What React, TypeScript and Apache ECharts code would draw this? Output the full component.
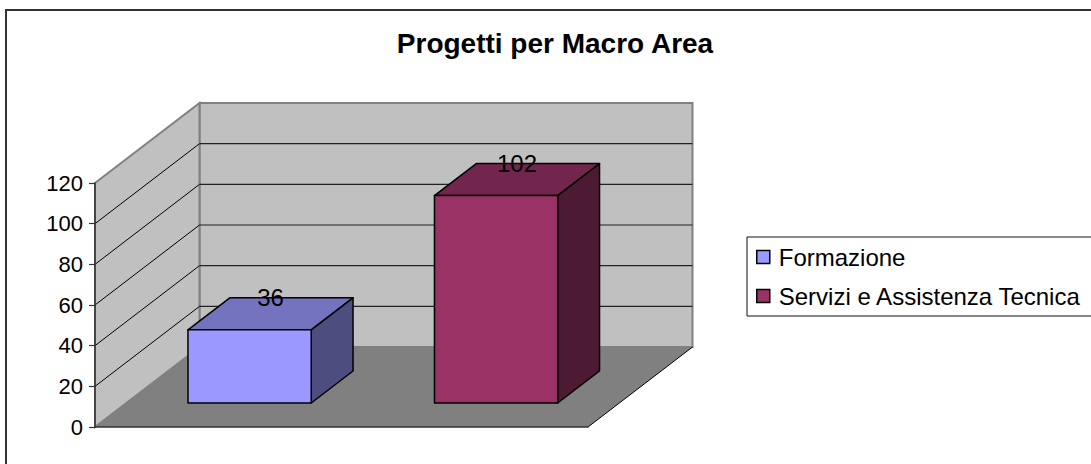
import React, { useEffect, useRef } from "react";
import * as echarts from "echarts";

const title = "Progetti per Macro Area";
const categories = ["Formazione", "Servizi e Assistenza Tecnica"];
const values = [36, 102];
const yTicks = [0, 20, 40, 60, 80, 100, 120];
const frontColors = ["#9999ff", "#993366"];
const topColors = ["#7373bf", "#73264d"];
const sideColors = ["#4d4d80", "#4d1a33"];

const DX = 104.5;
const DY = -80;
const F0 = 0.3;
const F1 = 0.7;
const FONT = '"Liberation Sans", Arial, sans-serif';

export default function App() {
  const ref = useRef<HTMLDivElement>(null);

  useEffect(() => {
    if (!ref.current) return;
    const chart = echarts.init(ref.current, null, { renderer: "svg" });
    const yMax = yTicks[yTicks.length - 1];

    const wallsSeries: any = {
      type: "custom",
      name: "walls",
      clip: false,
      silent: true,
      z: 1,
      data: [[0, 0]],
      renderItem: (params: any, api: any) => {
        const cs = params.coordSys;
        const x0 = cs.x;
        const w = cs.width;
        const yBot = api.coord([0, 0])[1];
        const yTop = api.coord([0, yMax])[1];
        const children: any[] = [];
        children.push({
          type: "rect",
          shape: { x: x0 + DX, y: yTop + DY, width: w, height: yBot - yTop },
          style: { fill: "#c0c0c0", stroke: "#808080", lineWidth: 2 },
        });
        children.push({
          type: "polygon",
          shape: { points: [[x0, yTop], [x0 + DX, yTop + DY], [x0 + DX, yBot + DY], [x0, yBot]] },
          style: { fill: "#c0c0c0", stroke: "#808080", lineWidth: 2 },
        });
        children.push({
          type: "polygon",
          shape: { points: [[x0, yBot], [x0 + w, yBot], [x0 + w + DX, yBot + DY], [x0 + DX, yBot + DY]] },
          style: { fill: "#808080" },
        });
        children.push({
          type: "line",
          shape: { x1: x0 + w, y1: yBot, x2: x0 + w + DX, y2: yBot + DY },
          style: { stroke: "#000", lineWidth: 1 },
        });
        yTicks.forEach((v) => {
          if (v === 0 || v === yMax) return;
          const yv = api.coord([0, v])[1];
          children.push({
            type: "line",
            shape: { x1: x0, y1: yv, x2: x0 + DX, y2: yv + DY },
            style: { stroke: "#000", lineWidth: 1 },
          });
          children.push({
            type: "line",
            shape: { x1: x0 + DX, y1: yv + DY, x2: x0 + w + DX, y2: yv + DY },
            style: { stroke: "#222", lineWidth: 1.2 },
          });
        });
        return { type: "group", children };
      },
    };

    const barSeries = categories.map((name, i) => ({
      type: "custom",
      name,
      clip: false,
      z: 3,
      itemStyle: { color: frontColors[i] },
      encode: { x: 0, y: 1 },
      data: [[i, values[i]]],
      renderItem: (params: any, api: any) => {
        const idx = api.value(0);
        const v = api.value(1);
        const base = api.coord([idx, 0]);
        const top = api.coord([idx, v]);
        const bw = api.size([1, 0])[0] * 0.5;
        const ox = F0 * DX;
        const oy = F0 * DY;
        const ddx = (F1 - F0) * DX;
        const ddy = (F1 - F0) * DY;
        const xl = base[0] - bw / 2 + ox;
        const xr = base[0] + bw / 2 + ox;
        const yb = base[1] + oy;
        const yt = top[1] + oy;
        const stroke = { stroke: "#000", lineWidth: 1.5, lineJoin: "round" };
        return {
          type: "group",
          children: [
            {
              type: "polygon",
              shape: { points: [[xl, yt], [xr, yt], [xr + ddx, yt + ddy], [xl + ddx, yt + ddy]] },
              style: { fill: topColors[i], ...stroke },
            },
            {
              type: "polygon",
              shape: { points: [[xr, yt], [xr + ddx, yt + ddy], [xr + ddx, yb + ddy], [xr, yb]] },
              style: { fill: sideColors[i], ...stroke },
            },
            {
              type: "rect",
              shape: { x: xl, y: yt, width: xr - xl, height: yb - yt },
              style: { fill: frontColors[i], ...stroke },
            },
            {
              type: "text",
              x: (xl + xr + ddx) / 2,
              y: yt + ddy,
              z2: 10,
              style: {
                text: String(v),
                fill: "#000",
                fontSize: 24,
                fontFamily: FONT,
                align: "center",
                verticalAlign: "middle",
              },
            },
          ],
        };
      },
    }));

    chart.setOption({
      animation: false,
      title: {
        text: title,
        left: 555,
        top: 29,
        textAlign: "center",
        padding: 0,
        textStyle: { fontSize: 28, fontWeight: "bold", fontFamily: FONT, color: "#000" },
      },
      legend: {
        data: categories,
        orient: "vertical",
        left: 747,
        top: 237,
        backgroundColor: "#fff",
        borderColor: "#111",
        borderWidth: 1,
        padding: [7, 60, 7, 9],
        itemGap: 13,
        itemWidth: 13,
        itemHeight: 13,
        icon: "rect",
        selectedMode: false,
        itemStyle: { borderColor: "#000", borderWidth: 1.5 },
        textStyle: {
          fontSize: 24,
          fontFamily: FONT,
          color: "#000",
          lineHeight: 26,
          padding: [0, 0, 0, 4],
        },
      },
      graphic: [
        {
          type: "rect",
          shape: { x: 6, y: 10, width: 1200, height: 600 },
          style: { fill: "none", stroke: "#333", lineWidth: 2 },
          silent: true,
          z: -10,
        },
      ],
      grid: { left: 95, top: 183, width: 493, height: 244 },
      xAxis: {
        type: "category",
        data: categories,
        z: 5,
        axisLine: { show: true, lineStyle: { color: "#333", width: 1.5 } },
        axisTick: { show: false },
        axisLabel: { show: false },
        splitLine: { show: false },
      },
      yAxis: {
        type: "value",
        min: 0,
        max: yMax,
        interval: 20,
        z: 5,
        axisLine: { show: true, lineStyle: { color: "#333", width: 1.5 } },
        axisTick: { show: true, length: 6, lineStyle: { color: "#333", width: 1.2 } },
        axisLabel: { fontSize: 22, fontFamily: FONT, color: "#000", margin: 12 },
        splitLine: { show: false },
      },
      series: [wallsSeries, ...barSeries],
    });

    return () => chart.dispose();
  }, []);

  return (
    <div
      ref={ref}
      style={{ position: "fixed", left: 0, top: 0, width: 1091, height: 464, background: "#fff" }}
    />
  );
}
